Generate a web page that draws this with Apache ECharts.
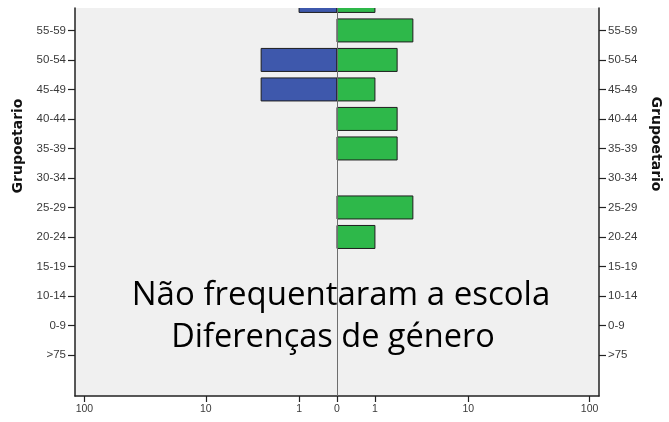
<!DOCTYPE html>
<html>
<head>
<meta charset="utf-8">
<script src="https://cdn.jsdelivr.net/npm/echarts@6/dist/echarts.min.js"></script>
<style>
  html, body { margin: 0; padding: 0; background: #ffffff; }
  #chart { width: 669px; height: 422px; }
</style>
</head>
<body>
<div id="chart"></div>
<script>
// Age groups, bottom to top
const ageGroups = ['>75', '0-9', '10-14', '15-19', '20-24', '25-29', '30-34', '35-39', '40-44', '45-49', '50-54', '55-59', '60-64'];
// Counts per age group (left / blue side and right / green side)
const maleCounts   = [0, 0, 0, 0, 0, 0, 0, 0, 0, 3, 3, 0, 1];
const femaleCounts = [0, 0, 0, 0, 1, 3, 0, 2, 2, 1, 2, 3, 1];
// Counts shown as ticks along the horizontal axis (negative = left side)
const countTicks = [-100, -10, -1, 0, 1, 10, 100];
const countTickLabels = ['100', '10', '1', '0', '1', '10', '100'];

const titleLines = ['Não frequentaram a escola', 'Diferenças de género'];
const axisTitle = 'Grupoetario';

// Signed log(1 + n) scale so that zero sits at the centre
const toAxis = v => Math.sign(v) * Math.log10(1 + Math.abs(v));

const maleData = [];
const femaleData = [];
ageGroups.forEach((g, i) => {
  if (maleCounts[i] > 0) maleData.push([toAxis(-maleCounts[i]), i]);
  if (femaleCounts[i] > 0) femaleData.push([toAxis(femaleCounts[i]), i]);
});

const tickPositions = countTicks.map(toAxis);
const ageIdx = ageGroups.map((g, i) => i);

function barRenderer(color) {
  return function (params, api) {
    const v = api.value(0);
    const y = api.value(1);
    const p0 = api.coord([0, y]);
    const p1 = api.coord([v, y]);
    const h = api.size([0, 1])[1] * 0.78;
    return {
      type: 'rect',
      shape: {
        x: Math.min(p0[0], p1[0]),
        y: p0[1] - h / 2,
        width: Math.abs(p1[0] - p0[0]),
        height: h
      },
      style: { fill: color, stroke: '#1e1e1e', lineWidth: 1 }
    };
  };
}

const axisLabelFont = { fontFamily: 'Liberation Sans', fontSize: 11.5, color: '#3a3a3a' };
const catLabel = v => ageGroups[Math.round(v)] || '';

function ageAxis(position) {
  return {
    type: 'value', position: position,
    min: -1.39, max: 11.76,
    axisLine: { show: true, onZero: false, lineStyle: { color: '#222', width: 1.5 } },
    axisTick: { show: true, length: 7, customValues: ageIdx, lineStyle: { color: '#222', width: 1.2 } },
    axisLabel: { show: true, customValues: ageIdx, margin: 9, formatter: catLabel, ...axisLabelFont },
    splitLine: { show: false }
  };
}

const chart = echarts.init(document.getElementById('chart'), null, { renderer: 'canvas' });
chart.setOption({
  animation: false,
  backgroundColor: '#ffffff',
  grid: {
    left: 75, right: 70, top: 8, bottom: 26,
    show: true, backgroundColor: '#f0f0f0', borderWidth: 0
  },
  xAxis: {
    type: 'value',
    min: -2.079, max: 2.079,
    axisLine: { show: true, onZero: false, lineStyle: { color: '#222', width: 1.5 } },
    axisTick: { show: true, length: 6, customValues: tickPositions, lineStyle: { color: '#222', width: 1.2 } },
    axisLabel: {
      show: true, customValues: tickPositions, margin: 8,
      formatter: v => {
        const k = tickPositions.findIndex(t => Math.abs(t - v) < 1e-6);
        return k >= 0 ? countTickLabels[k] : '';
      },
      ...axisLabelFont, fontSize: 10.5
    },
    splitLine: { show: false }
  },
  yAxis: [ageAxis('left'), ageAxis('right')],
  series: [
    {
      type: 'custom', name: 'male', clip: true,
      renderItem: barRenderer('#3e58ac'),
      encode: { x: 0, y: 1 },
      data: maleData
    },
    {
      type: 'custom', name: 'female', clip: true,
      renderItem: barRenderer('#2eb84a'),
      encode: { x: 0, y: 1 },
      data: femaleData,
      markLine: {
        silent: true, symbol: 'none', animation: false,
        label: { show: false },
        lineStyle: { color: '#6e6e6e', width: 1, type: 'solid' },
        data: [{ xAxis: 0 }]
      }
    }
  ],
  graphic: [
    {
      type: 'text', z: 110, x: 18, y: 146, rotation: Math.PI / 2,
      style: {
        text: axisTitle, fontFamily: 'DejaVu Sans', fontWeight: 'bold', fontSize: 14,
        fill: '#111', align: 'center', verticalAlign: 'middle'
      }
    },
    {
      type: 'text', z: 110, x: 656, y: 144, rotation: -Math.PI / 2,
      style: {
        text: axisTitle, fontFamily: 'DejaVu Sans', fontWeight: 'bold', fontSize: 14,
        fill: '#111', align: 'center', verticalAlign: 'middle'
      }
    },
    {
      type: 'text', z: 110, x: 341, y: 296,
      style: {
        text: titleLines[0], fontFamily: 'Open Sans', fontSize: 33,
        fill: '#000', align: 'center', verticalAlign: 'middle'
      }
    },
    {
      type: 'text', z: 110, x: 333, y: 338,
      style: {
        text: titleLines[1], fontFamily: 'Open Sans', fontSize: 32.5,
        fill: '#000', align: 'center', verticalAlign: 'middle'
      }
    }
  ]
});
</script>
</body>
</html>
